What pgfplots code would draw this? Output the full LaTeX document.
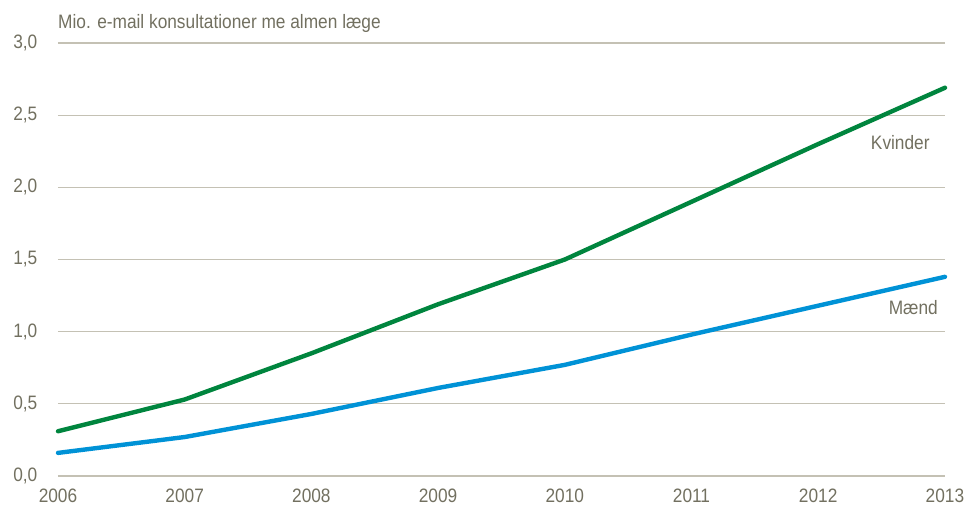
\documentclass[border=0pt]{standalone}
\usepackage{fontspec}
\setmainfont[FakeStretch=0.89]{Liberation Sans}
\usepackage{pgfplots}
\pgfplotsset{compat=1.18}
\definecolor{kgreen}{RGB}{0,133,62}
\definecolor{mblue}{RGB}{0,146,214}
\definecolor{txtgray}{RGB}{114,112,96}
\definecolor{gridc}{RGB}{196,193,180}
\begin{document}
\begin{tikzpicture}
\fontsize{19.5}{23}\selectfont
\begin{axis}[
  name=ax,
  scale only axis,
  width=887bp, height=433bp,
  xmin=2006, xmax=2013,
  ymin=0, ymax=3,
  xtick={2006,...,2013},
  ytick={0,0.5,...,3},
  xticklabel style={/pgf/number format/1000 sep={}, text=txtgray, yshift=-6bp},
  yticklabel style={/pgf/number format/.cd, use comma, fixed, fixed zerofill, precision=1, /tikz/.cd, text=txtgray, xshift=-14bp},
  /pgf/number format/assume math mode=true,
  tick label style={font=\fontsize{19.5}{23}\selectfont},
  axis line style={draw=none},
  ymajorgrids,
  major grid style={gridc, line width=1.2bp},
  major tick length=0pt,
  tick style={draw=none},
  clip=false,
]
\addplot[kgreen, line width=4.4bp, line join=round, line cap=round] coordinates {
(2006,0.31) (2007,0.53) (2008,0.85) (2009,1.19) (2010,1.50) (2011,1.90) (2012,2.30) (2013,2.69)};
\addplot[mblue, line width=4.4bp, line join=round, line cap=round] coordinates {
(2006,0.16) (2007,0.27) (2008,0.43) (2009,0.61) (2010,0.77) (2011,0.98) (2012,1.18) (2013,1.38)};
\node[anchor=east, text=txtgray, inner sep=0pt] at (axis cs:2012.88,2.31) {Kvinder};
\node[anchor=east, text=txtgray, inner sep=0pt] at (axis cs:2012.945,1.164) {Mænd};
\end{axis}
\node[anchor=base west, text=txtgray, inner sep=0pt] at ([yshift=14bp]ax.north west) {Mio. e-mail konsultationer me almen læge};
\pgfresetboundingbox
\path (-58bp,-35bp) rectangle (908bp,476bp);
\end{tikzpicture}
\end{document}
